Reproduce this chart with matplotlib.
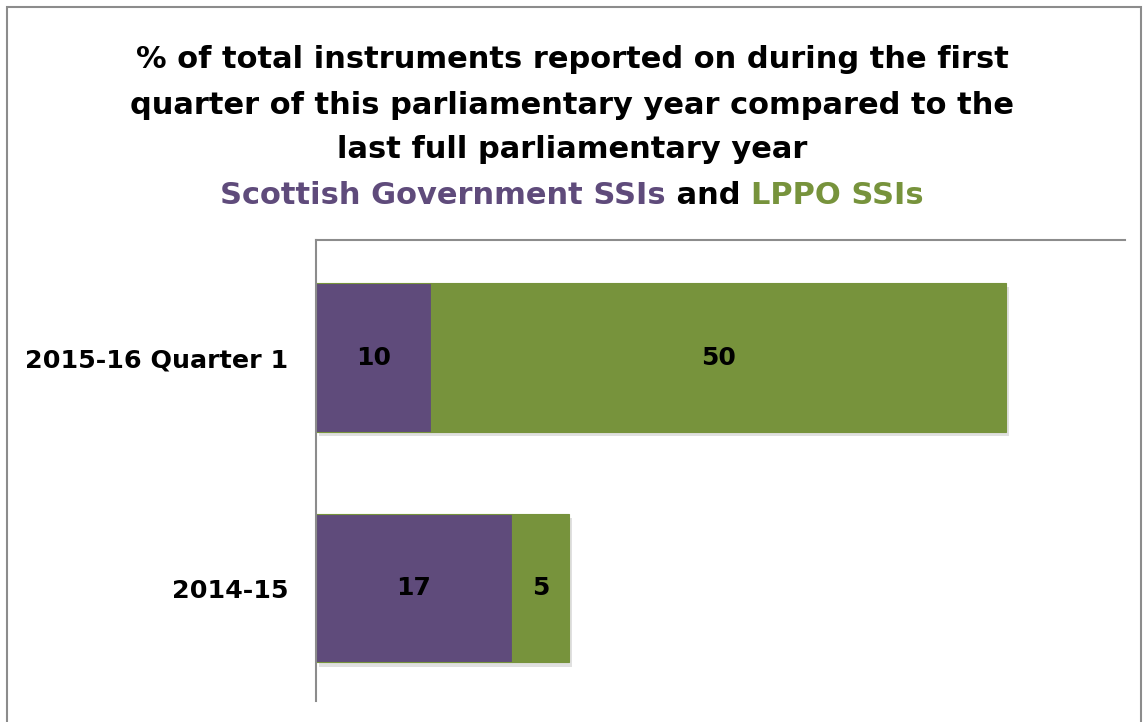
import matplotlib
matplotlib.use("Agg")
import matplotlib.pyplot as plt
import matplotlib.patheffects as pe
from matplotlib.patches import Rectangle

categories = ["2014-15", "2015-16 Quarter 1"]
sg_values = [17, 10]
lppo_values = [5, 50]
series_names = ["Scottish Government SSIs", "LPPO SSIs"]

purple = "#5F4B7B"
green = "#77933C"

fig = plt.figure(figsize=(11.44, 7.22), dpi=100)
fig.patches.append(Rectangle((7/1144, -0.05), (1141-7)/1144, 1 + 0.05 - 7/722,
                             transform=fig.transFigure, fill=False,
                             edgecolor="#8c8c8c", linewidth=1.5))

ax = fig.add_axes([316/1144, 1 - 701/722, (1125-316)/1144, (701-240)/722])

shadow = [pe.SimplePatchShadow(offset=(2, -3), shadow_rgbFace="#000000", alpha=0.12), pe.Normal()]
y = list(range(len(categories)))
b1 = ax.barh(y, sg_values, height=0.645, color=purple, edgecolor=green, linewidth=0.8)
b2 = ax.barh(y, lppo_values, left=sg_values, height=0.645, color=green, edgecolor=green, linewidth=0.8)
for bars in (b1, b2):
    for p in bars:
        p.set_path_effects(shadow)

for i in range(len(categories)):
    ax.text(sg_values[i] / 2, i, str(sg_values[i]), ha="center", va="center",
            fontsize=18, fontweight="bold", color="black")
    ax.text(sg_values[i] + lppo_values[i] / 2, i, str(lppo_values[i]), ha="center", va="center",
            fontsize=18, fontweight="bold", color="black")

ax.set_xlim(0, 70.3)
ax.set_ylim(-0.49, 1.51)
ax.set_yticks(y)
ax.set_yticklabels(categories, fontsize=18.3, fontweight="bold")
ax.tick_params(axis="y", length=0, pad=20)
ax.set_xticks([])
for s in ("right", "bottom"):
    ax.spines[s].set_visible(False)
for s in ("left", "top"):
    ax.spines[s].set_color("#8c8c8c")
    ax.spines[s].set_linewidth(1.5)

title_lines = ["% of total instruments reported on during the first",
               "quarter of this parliamentary year compared to the",
               "last full parliamentary year"]
ys = [60, 105, 150]
for t, yy in zip(title_lines, ys):
    fig.text(572/1144, 1 - yy/722, t, ha="center", va="center",
             fontsize=22, fontweight="bold", color="black")

# Subtitle with coloured parts
parts = [(series_names[0], purple), (" and ", "black"), (series_names[1], green)]
renderer = fig.canvas.get_renderer()
texts = []
for s, c in parts:
    t = fig.text(0, 1 - 195/722, s, ha="left", va="center", fontsize=22,
                 fontweight="bold", color=c)
    texts.append(t)
widths = [t.get_window_extent(renderer=renderer).width for t in texts]
total = sum(widths)
x0 = 572 - total / 2
for t, w in zip(texts, widths):
    t.set_x(x0 / 1144)
    x0 += w

fig.savefig("out.png", dpi=100)
